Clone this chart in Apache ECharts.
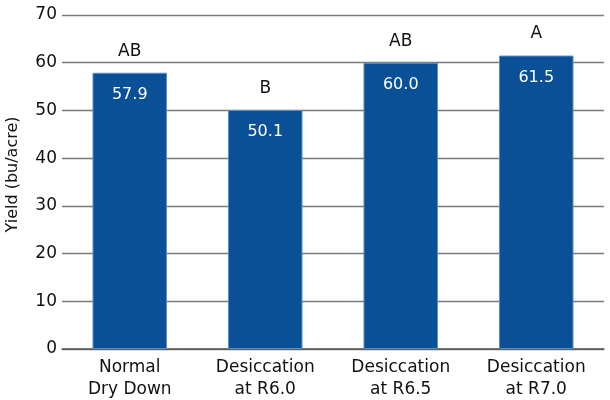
<!DOCTYPE html>
<html><head><meta charset="utf-8">
<script src="https://cdn.jsdelivr.net/npm/echarts@6/dist/echarts.min.js"></script>
<style>html,body{margin:0;padding:0;background:#fff}#c{width:610px;height:400px}</style>
</head><body><div id="c"></div>
<script>
const categories = ["Normal\nDry Down", "Desiccation\nat R6.0", "Desiccation\nat R6.5", "Desiccation\nat R7.0"];
const yieldValues = [57.9, 50.1, 60.0, 61.5];
const groupLetters = ["AB", "B", "AB", "A"];
const yTicks = [0, 10, 20, 30, 40, 50, 60, 70];

const font = "DejaVu Sans";
const chart = echarts.init(document.getElementById('c'));
chart.setOption({
  animation: false,
  grid: {left: 62, right: 6, top: 15, bottom: 51, containLabel: false, outerBoundsMode: 'none'},
  xAxis: {
    type: 'category', data: categories,
    axisLine: {show: true, lineStyle: {color: '#555', width: 1.5}},
    axisTick: {show: false},
    axisLabel: {color: '#111', fontSize: 17, fontFamily: font, lineHeight: 22, margin: 8}
  },
  yAxis: {
    type: 'value', min: yTicks[0], max: yTicks[yTicks.length - 1], interval: 10,
    name: 'Yield (bu/acre)', nameLocation: 'middle', nameGap: 41,
    nameTextStyle: {color: '#111', fontSize: 16, fontFamily: font, padding: [0, 0, 0, 15]},
    axisLine: {show: false}, axisTick: {show: false},
    axisLabel: {color: '#111', fontSize: 17, fontFamily: font, margin: 5},
    splitLine: {lineStyle: {color: '#7a7a7a', width: 1.3}}
  },
  series: [
    {
      type: 'bar', data: yieldValues, barWidth: '55%',
      itemStyle: {color: '#0a5097', borderColor: '#5b8fc9', borderWidth: 1},
      label: {show: true, position: 'insideTop', distance: 14, color: '#fff',
        fontSize: 16, fontFamily: font, formatter: p => p.value.toFixed(1)},
      z: 2
    },
    {
      type: 'bar', data: yieldValues, barWidth: '55%', barGap: '-100%',
      itemStyle: {color: 'rgba(0,0,0,0)'},
      label: {show: true, position: 'top', distance: 13, color: '#111',
        fontSize: 17, fontFamily: font, formatter: p => groupLetters[p.dataIndex]},
      silent: true, z: 3
    }
  ]
});
</script></body></html>
